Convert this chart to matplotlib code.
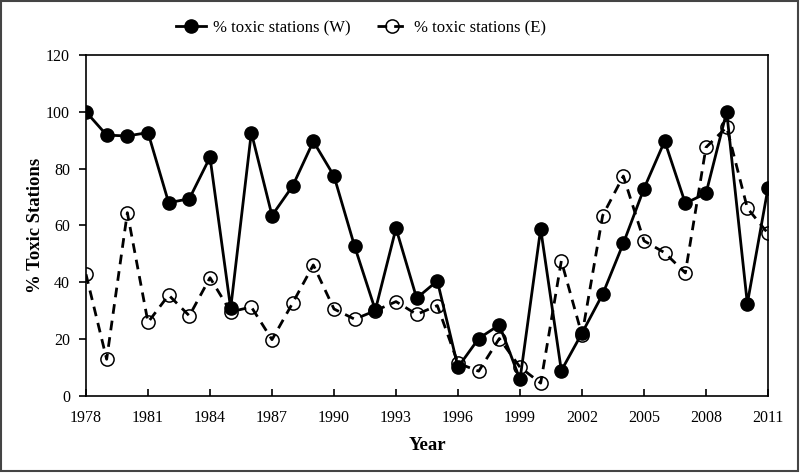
import matplotlib
matplotlib.use('Agg')
from matplotlib import pyplot as plt

plt.rcParams['font.family'] = ['Liberation Serif', 'DejaVu Serif']

years = list(range(1978, 2012))
toxic_w = [100, 91.8, 91.5, 92.7, 68, 69.4, 84, 30.8, 92.7, 63.5, 73.9, 89.6,
           77.4, 52.6, 30.2, 59, 34.4, 40.5, 10.1, 20.2, 25, 5.8, 58.8, 8.9,
           22.1, 35.8, 53.7, 73, 89.7, 67.8, 71.3, 100, 32.5, 73.2]
toxic_e = [42.8, 12.9, 64.5, 25.9, 35.5, 28.2, 41.6, 29.6, 31.3, 19.8, 32.7, 46.1,
           30.6, 27, 30, 33.2, 28.7, 31.8, 11.5, 8.7, 20.2, 10.1, 4.5, 47.5,
           21.4, 63.5, 77.4, 54.6, 50.4, 43.3, 87.5, 94.6, 66.1, 57.2]
xticks = list(range(1978, 2012, 3))
yticks = [0, 20, 40, 60, 80, 100, 120]

fig = plt.figure(figsize=(8, 4.73), dpi=100)
fig.patches.append(plt.Rectangle((0.001, 0.004), 0.997, 0.994, transform=fig.transFigure,
                                 fill=False, edgecolor='#444444', linewidth=1.5))
ax = fig.add_axes([0.1075, 0.163, 0.8525, 0.7207])

ax.plot(years, toxic_w, color='black', linestyle='-', linewidth=2,
        marker='o', markersize=9.5, markerfacecolor='black', label='% toxic stations (W)',
        zorder=3)
ax.plot(years, toxic_e, color='black', linestyle='--', linewidth=2, dashes=(3.5, 2.5),
        marker='o', markersize=9.5, markerfacecolor='none', markeredgecolor='black',
        markeredgewidth=1.1, label='% toxic stations (E)', zorder=2)

ax.set_xlim(1978, 2011)
ax.set_ylim(0, 120)
ax.set_xticks(xticks)
ax.set_yticks(yticks)
ax.tick_params(axis='x', direction='in', length=5, labelsize=11.5, pad=10, width=1.2)
ax.tick_params(axis='y', direction='out', length=5, labelsize=11.5, pad=6.5, width=1.2)
for s in ax.spines.values():
    s.set_linewidth(1.2)

ax.set_xlabel('Year', fontsize=13.5, fontweight='bold', labelpad=8)
ax.set_ylabel('% Toxic Stations', fontsize=13.5, fontweight='bold', labelpad=1.5)

fig.legend(loc='center', bbox_to_anchor=(0.451, 0.941), ncol=2, frameon=False,
           fontsize=12, handlelength=1.8, columnspacing=1.6, handletextpad=0.4)

fig.savefig('out.png', dpi=100)
